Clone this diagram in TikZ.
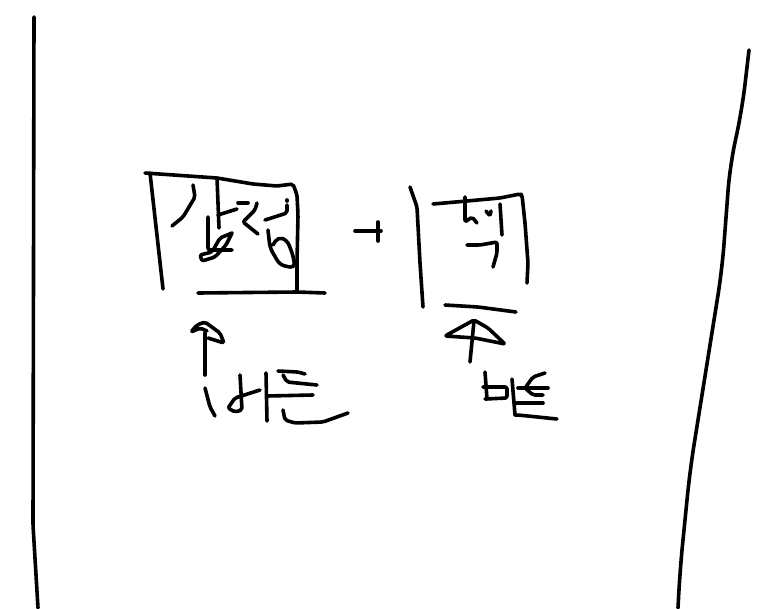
\documentclass[tikz,border=0pt]{standalone}
\tikzset{ink/.style={line width=3.6pt,line cap=round,line join=round,rounded corners=2pt,black}}
\begin{document}
\begin{tikzpicture}[x=1pt,y=-1pt]
\useasboundingbox[fill=white] (0,0) rectangle (776,608);
% margins
\draw[ink] (34,17)--(33,525)--(38,608);
\draw[ink,rounded corners=25pt] (749,50)--(742,110)--(730,165)--(722,270)--(706,370)--(690,470)--(680,570)--(678,608);
% left box
\draw[ink] (145,173)--(217,178)--(253,184)--(277,186)--(293,184)--(297,195)--(298,215)--(297,262)--(297,292);
\draw[ink] (150,173)--(163,289);
\draw[ink] (198,293)--(297,292)--(325,293);
\draw[ink] (193,185)--(195,197)--(183,217)--(172,226);
\draw[ink] (217,178)--(219,228);
\draw[ink] (218,215)--(237,209);
\draw[ink] (238,203)--(248,203);
\draw[ink] (257,203)--(255,210)--(243,222)--(258,234);
\draw[ink] (208,217)--(208,250)--(232,250);
\draw[ink] (232,233)--(220,238)--(212,252)--(200,255)--(202,261)--(215,257)--(226,245)--(232,233);
\draw[ink] (287,200)--(287,201);
\draw[ink] (287,205)--(287,213)--(265,220);
\draw[ink,rounded corners=5pt] (268,230)--(270,248)--(280,265)--(295,268)--(293,255)--(287,240)--(278,237)--(273,245);
% plus
\draw[ink] (355,231)--(381,231);
\draw[ink] (378,222)--(378,241);
% right box
\draw[ink] (410,187)--(417,207)--(420,263)--(423,307);
\draw[ink] (433,204)--(467,201)--(500,198)--(520,194)--(522,195)--(525,223)--(528,263)--(527,283);
\draw[ink] (465,197)--(465,222)--(472,217)--(477,223);
\draw[ink] (486,211)--(490,216)--(491,211);
\draw[ink] (500,204)--(502,235);
\draw[ink] (467,245)--(480,245)--(497,242)--(497,253)--(493,267);
\draw[ink] (445,305)--(478,307)--(516,312);
% left arrow
\draw[ink] (205,375)--(205,333);
\draw[ink] (208,338)--(224,343)--(220,333)--(205,322)--(197,325)--(191,332)--(200,328)--(207,331);
% left label
\draw[ink] (205,388)--(210,407)--(215,416);
\draw[ink] (240,375)--(242,410)--(235,412)--(228,408)--(235,398)--(260,390);
\draw[ink] (266,373)--(267,421);
\draw[ink] (267,396)--(313,395);
\draw[ink] (278,371)--(298,372)--(305,374);
\draw[ink] (283,375)--(287,382)--(317,385);
\draw[ink] (283,410)--(285,420)--(295,423)--(323,422)--(348,413);
% right arrow
\draw[ink] (470,362)--(474,321);
\draw[ink] (445,336)--(474,320)--(488,328)--(505,344)--(475,338)--cycle;
% right label
\draw[ink] (485,372)--(487,399);
\draw[ink] (483,387)--(507,387)--(507,398)--(485,399);
\draw[ink] (512,379)--(515,415);
\draw[ink] (518,388)--(548,388);
\draw[ink] (545,373)--(533,377)--(525,388)--(533,395)--(543,395);
\draw[ink] (515,403)--(543,403);
\draw[ink] (515,415)--(518,415)--(557,419);
\end{tikzpicture}
\end{document}
